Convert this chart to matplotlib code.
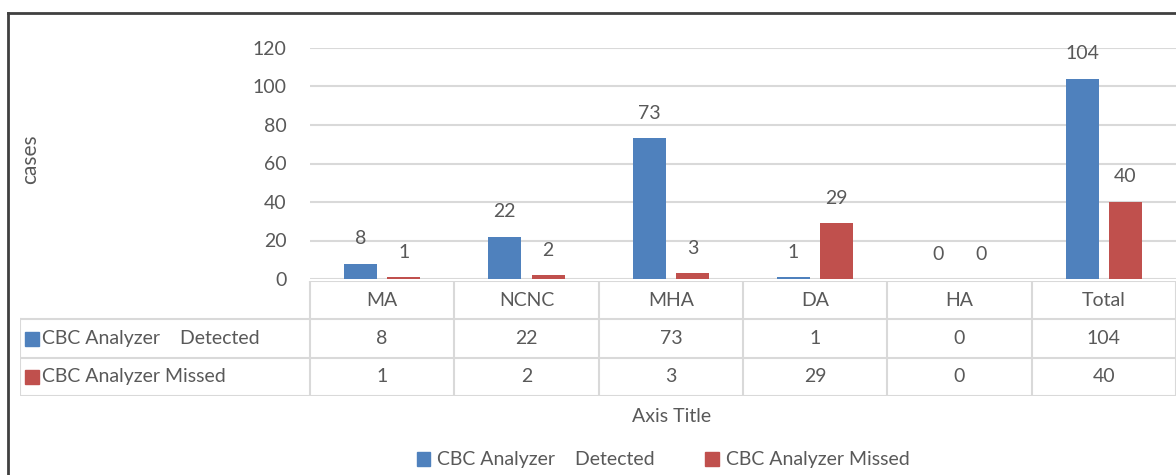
import numpy as np
import matplotlib.pyplot as plt
from matplotlib.patches import Patch
from matplotlib.lines import Line2D

# data
categories = ['MA', 'NCNC', 'MHA', 'DA', 'HA', 'Total']
detected = [8, 22, 73, 1, 0, 104]
missed = [1, 2, 3, 29, 0, 40]
series_names = ['CBC Analyzer    Detected', 'CBC Analyzer Missed']
y_ticks = [0, 20, 40, 60, 80, 100, 120]

blue = '#4F81BD'
red = '#C0504D'
txt = '#595959'
grid = '#D9D9D9'
fs = 14

plt.rcParams['font.family'] = ['Lato', 'DejaVu Sans']
W, H = 1176, 475
fig = plt.figure(figsize=(W / 100, H / 100), dpi=100)

# plot area in pixels
px_left, px_right, px_top, px_bot = 310, 1176, 48, 279
ax = fig.add_axes([px_left / W, 1 - px_bot / H, (px_right - px_left) / W, (px_bot - px_top) / H])

x = np.arange(len(categories))
off, bw = 0.15, 0.23
b1 = ax.bar(x - off, detected, bw, color=blue, zorder=3)
b2 = ax.bar(x + off, missed, bw, color=red, zorder=3)
for bars, vals in ((b1, detected), (b2, missed)):
    for rect, v in zip(bars, vals):
        ax.annotate(str(v), (rect.get_x() + rect.get_width() / 2, v),
                    xytext=(0, 18), textcoords='offset points',
                    ha='center', va='center', fontsize=fs, color=txt)

ax.set_xlim(-0.5, len(categories) - 0.5)
ax.set_ylim(0, 120)
ax.set_yticks(y_ticks)
ax.tick_params(axis='y', length=0, labelsize=fs, labelcolor=txt, pad=17)
ax.set_xticks([])
ax.grid(axis='y', color=grid, linewidth=1.5, zorder=0)
for s in ax.spines.values():
    s.set_visible(False)
ax.set_ylabel('cases', fontsize=15, color=txt)
ax.yaxis.set_label_coords(-(px_left - 40) / (px_right - px_left), 0.52)

# data table below the plot
tb_left, tb_top, tb_bot = 20, 281, 396
cat_w = (px_right - px_left) / len(categories)
xl = -0.5 - (px_left - tb_left) / cat_w
tax = fig.add_axes([tb_left / W, 1 - tb_bot / H, (px_right - tb_left) / W, (tb_bot - tb_top) / H])
tax.set_xlim(xl, len(categories) - 0.5)
tax.set_ylim(3, 0)
tax.axis('off')
lw = 1.5
xr = len(categories) - 0.5
tax.plot([-0.5, xr], [0, 0], color=grid, lw=lw)
for yy in (1, 2, 3):
    tax.plot([xl, xr], [yy, yy], color=grid, lw=lw)
for i in range(len(categories) + 1):
    tax.plot([i - 0.5, i - 0.5], [0, 3], color=grid, lw=lw)
tax.plot([xl, xl], [1, 3], color=grid, lw=lw)
for i, c in enumerate(categories):
    tax.text(i, 0.5, c, ha='center', va='center', fontsize=fs, color=txt)
    tax.text(i, 1.5, str(detected[i]), ha='center', va='center', fontsize=fs, color=txt)
    tax.text(i, 2.5, str(missed[i]), ha='center', va='center', fontsize=fs, color=txt)
for row, (name, col) in enumerate(zip(series_names, (blue, red))):
    tax.plot([xl + 0.08], [row + 1.5], marker='s', markersize=9.5, color=col, ls='none')
    tax.text(xl + 0.155, row + 1.5, name, ha='left', va='center', fontsize=fs, color=txt)

fig.text(672 / W, 1 - 416 / H, 'Axis Title', ha='center', va='center', fontsize=fs, color=txt)

handles = [Patch(color=blue), Patch(color=red)]
fig.legend(handles, series_names, loc='center', bbox_to_anchor=(663 / W, 1 - 460 / H), ncol=2,
           frameon=False, fontsize=fs, labelcolor=txt, handlelength=0.7, handleheight=0.7,
           handletextpad=0.35, columnspacing=2.6)

# outer chart border (left and top visible)
fig.add_artist(Line2D([8 / W, 8 / W], [0, 1 - 13 / H], color='#404040', lw=2))
fig.add_artist(Line2D([8 / W, 1], [1 - 13 / H, 1 - 13 / H], color='#404040', lw=2))

fig.savefig('out.png', dpi=100)
